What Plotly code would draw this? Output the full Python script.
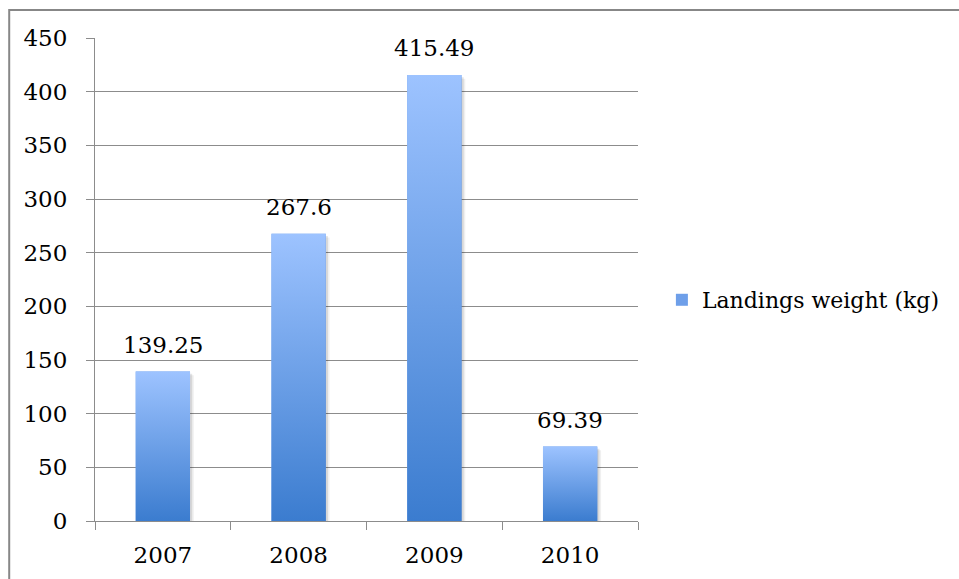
import plotly.graph_objects as go

# Landings by year
years = ["2007", "2008", "2009", "2010"]
landings_kg = [139.25, 267.6, 415.49, 69.39]
y_ticks = [0, 50, 100, 150, 200, 250, 300, 350, 400, 450]

FONT = "DejaVu Serif"
GRID = "#8C8C8C"
BAR_TOP = "#9DC3FF"
BAR_BOTTOM = "#3B7CCF"
BAR_MID = "#6E9FE9"
BAR_WIDTH = 0.4

pos = list(range(len(years)))

fig = go.Figure()

# Base bar trace: carries the series, its legend entry and hover
fig.add_trace(go.Bar(
    x=pos, y=landings_kg, width=BAR_WIDTH,
    name="Landings weight (kg)",
    marker=dict(color=BAR_MID, line=dict(width=0)),
    hovertemplate="%{y}<extra></extra>",
))

# Soft drop shadow and vertical gradient fill over each bar
half = BAR_WIDTH / 2
for i, v in zip(pos, landings_kg):
    for dx, dy, a in [(0.028, 3.5, 0.06), (0.016, 2.0, 0.10)]:
        fig.add_trace(go.Scatter(
            x=[i - half + dx, i + half + dx, i + half + dx, i - half + dx, i - half + dx],
            y=[-dy, -dy, v - dy, v - dy, -dy],
            mode="lines", fill="toself", line=dict(width=0),
            fillcolor=f"rgba(0,0,0,{a})", showlegend=False, hoverinfo="skip",
        ))
    fig.add_trace(go.Scatter(
        x=[i - half, i + half, i + half, i - half, i - half],
        y=[0, 0, v, v, 0],
        mode="lines", fill="toself", line=dict(width=0),
        fillgradient=dict(type="vertical", start=0, stop=v,
                          colorscale=[[0, BAR_BOTTOM], [1, BAR_TOP]]),
        showlegend=False, hoverinfo="skip",
    ))

# Value labels above the bars
for i, v in zip(pos, landings_kg):
    fig.add_annotation(
        x=i, y=v, text=f"{v:g}", showarrow=False,
        yanchor="bottom", yshift=12,
        font=dict(family=FONT, size=23, color="black"),
    )

# Outer chart frame (right and bottom edges run past the page)
fig.add_shape(
    type="rect", xref="paper", yref="paper",
    x0=-0.158, x1=2.0, y0=-0.4, y1=1.058,
    line=dict(color="#878787", width=2), fillcolor="rgba(0,0,0,0)",
)

fig.update_layout(
    width=959, height=579,
    margin=dict(l=95, r=321, t=38, b=58, autoexpand=False),
    paper_bgcolor="white", plot_bgcolor="white",
    font=dict(family=FONT, size=23, color="black"),
    showlegend=True,
    legend=dict(
        x=1.044, y=0.4576, xanchor="left", yanchor="middle",
        font=dict(family=FONT, size=22, color="black"),
        bgcolor="rgba(0,0,0,0)",
    ),
    xaxis=dict(
        range=[-0.5, len(years) - 0.5],
        tickmode="array", tickvals=pos, ticktext=years,
        ticks="", showgrid=False, zeroline=False,
        showline=True, linecolor=GRID, linewidth=1,
        ticklabelstandoff=13, automargin=False,
        minor=dict(tickmode="linear", tick0=-0.5, dtick=1,
                   ticks="outside", ticklen=8, tickcolor=GRID, tickwidth=1,
                   showgrid=False),
        tickfont=dict(family=FONT, size=23, color="black"),
        fixedrange=True,
    ),
    yaxis=dict(
        range=[0, 450], tickmode="array", tickvals=y_ticks,
        showgrid=True, gridcolor=GRID, gridwidth=1,
        zeroline=False, showline=True, linecolor=GRID, linewidth=1,
        ticks="outside", ticklen=8, tickcolor=GRID, tickwidth=1,
        ticklabelstandoff=14, automargin=False,
        tickfont=dict(family=FONT, size=23, color="black"),
        fixedrange=True,
    ),
)

fig.write_html("out.html")
